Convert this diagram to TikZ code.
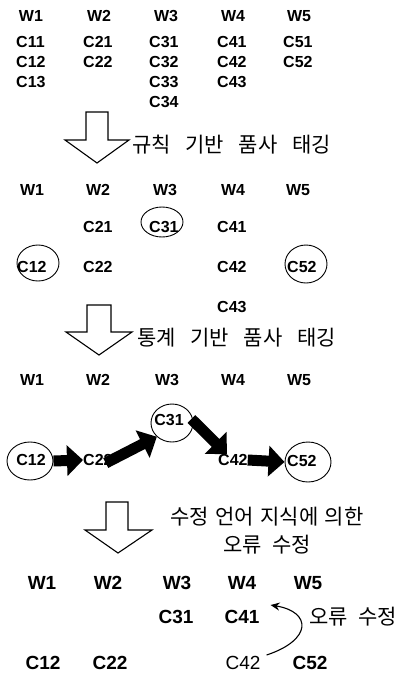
\documentclass[tikz,border=0pt]{standalone}
\usepackage{fontspec}
\setmainfont{Liberation Sans}
\newfontfamily\kr{Noto Sans CJK KR}
\usetikzlibrary{shapes.geometric,arrows.meta,calc}
\tikzset{
  wlab/.style={inner sep=0pt, font=\fontsize{16}{18}\selectfont\bfseries},
  clab/.style={inner sep=0pt, anchor=west, font=\fontsize{16}{18}\selectfont\bfseries},
  blab/.style={inner sep=0pt, font=\fontsize{19}{21}\selectfont\bfseries},
  rlab/.style={inner sep=0pt, font=\fontsize{19}{21}\selectfont},
  krlab/.style={inner sep=0pt, font=\fontsize{21}{24}\selectfont\kr},
  circ/.style={draw, ellipse, inner sep=0pt, line width=0.9pt},
  hollow/.style={draw, line width=1.1pt, fill=white, line join=miter},
  thick arrow/.style={line width=11pt, -{Triangle[length=16pt,width=30pt]}},
  curvearrow/.style={line width=1.1pt, -{Stealth[length=9pt,width=8pt]}},
}
\newcommand{\ws}{\hspace{0.5em}}
\newcommand{\wws}{\hspace{0.7em}}
\newcommand{\nws}{\hspace{0.3em}}
\begin{document}
\begin{tikzpicture}[x=1pt,y=-1pt]
\useasboundingbox (0,0) rectangle (401,675);
% ---- section 1
\node[wlab] (w1a) at (31,16) {W1};
\node[wlab] (w2a) at (99,16) {W2};
\node[wlab] (w3a) at (166,16) {W3};
\node[wlab] (w4a) at (233,16) {W4};
\node[wlab] (w5a) at (299,16) {W5};
\node[clab] (c11a) at (16,42) {C11};
\node[clab] (c12a) at (16,62) {C12};
\node[clab] (c13a) at (16,82) {C13};
\node[clab] (c21a) at (83,42) {C21};
\node[clab] (c22a) at (83,62) {C22};
\node[clab] (c31a) at (149,42) {C31};
\node[clab] (c32a) at (149,62) {C32};
\node[clab] (c33a) at (149,82) {C33};
\node[clab] (c34a) at (149,102) {C34};
\node[clab] (c41a) at (217,42) {C41};
\node[clab] (c42a) at (217,62) {C42};
\node[clab] (c43a) at (217,82) {C43};
\node[clab] (c51a) at (283,42) {C51};
\node[clab] (c52a) at (283,62) {C52};
\draw[hollow] (86,112) -- (86,140) -- (65,140) -- (97,163) -- (129,140) -- (108,140) -- (108,112) -- cycle;
\node[krlab, anchor=west] (lab1) at (132,145) {규칙\wws 기반\wws 품사\wws 태깅};
% ---- section 2
\node[wlab] (w1b) at (32,190) {W1};
\node[wlab] (w2b) at (98,190) {W2};
\node[wlab] (w3b) at (165,190) {W3};
\node[wlab] (w4b) at (233,190) {W4};
\node[wlab] (w5b) at (298,190) {W5};
\node[clab] (c21b) at (83,227) {C21};
\node[clab] (c31b) at (149,227) {C31};
\node[circ, minimum width=42pt, minimum height=30pt] (c31be) at (162,222) {};
\node[clab] (c41b) at (217,227) {C41};
\node[clab] (c12b) at (17,267) {C12};
\node[circ, minimum width=42pt, minimum height=36pt] (c12be) at (38,263) {};
\node[clab] (c22b) at (83,267) {C22};
\node[clab] (c42b) at (217,267) {C42};
\node[clab] (c52b) at (287,267) {C52};
\node[circ, minimum width=42pt, minimum height=38pt] (c52be) at (306,264) {};
\node[clab] (c43b) at (217,307) {C43};
\draw[hollow] (87,305) -- (87,332) -- (66,332) -- (99,355) -- (132,332) -- (111,332) -- (111,305) -- cycle;
\node[krlab, anchor=west] (lab2) at (137,338) {통계\wws 기반\wws 품사\wws 태깅};
% ---- section 3
\node[wlab] (w1c) at (32,380) {W1};
\node[wlab] (w2c) at (98,380) {W2};
\node[wlab] (w3c) at (167,380) {W3};
\node[wlab] (w4c) at (233,380) {W4};
\node[wlab] (w5c) at (299,380) {W5};
\node[circ, minimum width=46pt, minimum height=38pt] (c12ce) at (30,461) {};
\node[wlab] (c12c) at (31,460) {C12};
\node[clab] (c22c) at (83,460) {C22};
\node[circ, minimum width=42pt, minimum height=38pt] (c31ce) at (172,423) {};
\node[wlab] (c31c) at (169,420) {C31};
\node[clab] (c42c) at (218,460) {C42};
\node[circ, minimum width=46pt, minimum height=40pt] (c52ce) at (308,462) {};
\node[clab] (c52c) at (287,461) {C52};
\draw[thick arrow] (c12ce.east) -- (c22c.west);
\draw[thick arrow] ($(c22c.east)+(-7,3)$) -- (c31ce.south west);
\draw[thick arrow] ($(c31ce.east)+(-2,-4)$) -- ($(c42c.north west)+(9,0)$);
\draw[thick arrow] (c42c.east) -- (c52ce.west);
\draw[hollow] (106,502) -- (106,530) -- (85,530) -- (118,553) -- (152,530) -- (128,530) -- (128,502) -- cycle;
\node[krlab] (lab3a) at (267,517) {수정\nws 언어\nws 지식에\nws 의한};
\node[krlab] (lab3b) at (267,545) {오류\ws 수정};
% ---- section 4
\node[blab] (w1d) at (42,583) {W1};
\node[blab] (w2d) at (108,583) {W2};
\node[blab] (w3d) at (177,583) {W3};
\node[blab] (w4d) at (242,583) {W4};
\node[blab] (w5d) at (308,583) {W5};
\node[blab] (c31d) at (176,617) {C31};
\node[blab] (c41d) at (242,617) {C41};
\node[blab] (c12d) at (43,663) {C12};
\node[blab] (c22d) at (110,663) {C22};
\node[rlab] (c42d) at (243,663) {C42};
\node[blab] (c52d) at (310,663) {C52};
\coordinate (cstart) at ($(c42d.east)+(6,-8)$);
\coordinate (cend) at ($(c41d.east)+(11,-12)$);
\draw[curvearrow] (cstart) .. controls (312,640) and (312,612) .. (cend);
\node[krlab, anchor=west] (lab4) at (309,617) {오류\ws 수정};
\end{tikzpicture}
\end{document}
